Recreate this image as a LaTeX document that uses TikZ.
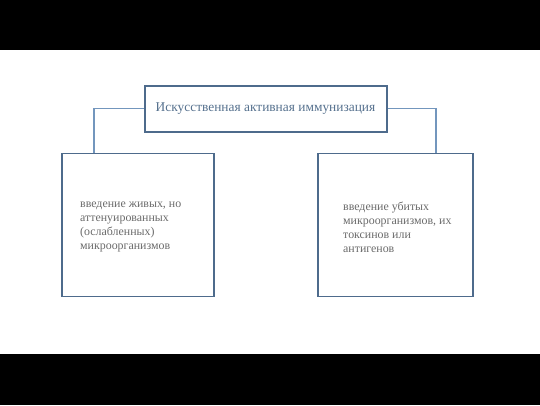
\documentclass[tikz,border=0pt]{standalone}
\usepackage{fontspec}
\setmainfont{Liberation Serif}
\usetikzlibrary{positioning}
\definecolor{boxline}{HTML}{4E6B8C}
\definecolor{linkline}{HTML}{7396BD}
\definecolor{titletext}{HTML}{56718E}
\definecolor{bodytext}{HTML}{6A6A6A}
\tikzset{
    titlebox/.style={draw=boxline,line width=2pt,minimum width=242pt,minimum height=46pt,
        text=titletext,font=\fontsize{13.4}{15}\selectfont,inner sep=0pt},
    itembox/.style={draw=boxline,line width=1.8pt,minimum height=143pt,anchor=north west},
    itemtext/.style={text=bodytext,font=\fontsize{11.9}{14}\selectfont,align=left,
        inner sep=0pt,anchor=west},
    link/.style={draw=linkline,line width=1.5pt}
}
\begin{document}
\begin{tikzpicture}[x=1pt,y=-1pt]
    \fill[black] (0,0) rectangle (540,50);
    \fill[black] (0,354) rectangle (540,405);
    \useasboundingbox (0,0) rectangle (540,405);
    \node[titlebox] (title) at (265.5,108.5) {Искусственная активная иммунизация};
    \node[itembox,minimum width=152pt] (live) at (61,152.5) {};
    \node[itembox,minimum width=155pt] (dead) at (317,152.5) {};
    \node[itemtext] (livetext) at ([xshift=19pt,yshift=-2pt]live.west)
        {введение живых, но\\аттенуированных\\(ослабленных)\\микроорганизмов};
    \node[itemtext] (deadtext) at ([xshift=26pt,yshift=-2pt]dead.west)
        {введение убитых\\микроорганизмов, их\\токсинов или\\антигенов};
    \coordinate (livejoin) at (94,152.5);
    \coordinate (deadjoin) at (436,152.5);
    \draw[link] (title.west) -| (livejoin);
    \draw[link] (title.east) -| (deadjoin);
\end{tikzpicture}
\end{document}
